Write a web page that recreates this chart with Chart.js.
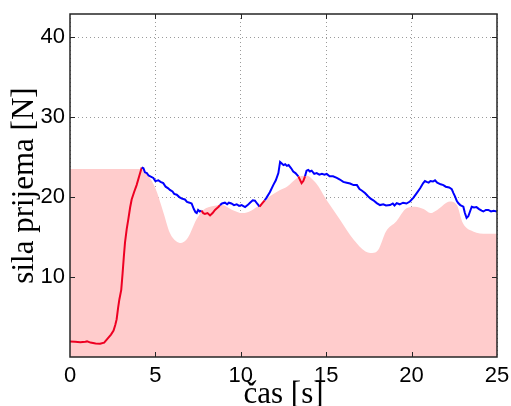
<!DOCTYPE html>
<html>
<head>
<meta charset="utf-8">
<script src="https://cdn.jsdelivr.net/npm/chart.js@4.4.1/dist/chart.umd.min.js"></script>
<style>
  html, body { margin: 0; padding: 0; background: #fff; }
  #wrap { width: 511px; height: 406px; }
</style>
</head>
<body>
<div id="wrap"><canvas id="silaChart"></canvas></div>
<script>
// measured force signal
const timeS = [0, 0.3, 0.6, 0.9, 1.0, 1.2, 1.5, 1.76, 2.0, 2.2, 2.4, 2.55, 2.65, 2.73, 2.82, 2.89, 3.0, 3.08, 3.15, 3.22,
  3.32, 3.42, 3.52, 3.61, 3.75, 3.9, 4.05, 4.2, 4.3, 4.39, 4.5, 4.6, 4.7, 4.88, 5.0, 5.17, 5.3, 5.46, 5.6, 5.75,
  5.85, 6.0, 6.1, 6.25, 6.4, 6.55, 6.73, 6.85, 7.0, 7.12, 7.25, 7.35, 7.42, 7.5, 7.6, 7.7, 7.8, 7.9, 8.05, 8.2,
  8.35, 8.49, 8.6, 8.7, 8.78, 8.9, 9.07, 9.2, 9.3, 9.45, 9.6, 9.76, 9.9, 10.05, 10.25, 10.4, 10.54, 10.7, 10.83, 10.95,
  11.1, 11.25, 11.4, 11.5, 11.7, 11.9, 12.05, 12.2, 12.3, 12.4, 12.5, 12.6, 12.7, 12.8, 12.95, 13.07, 13.2, 13.37, 13.48, 13.56,
  13.66, 13.76, 13.85, 13.95, 14.05, 14.15, 14.3, 14.44, 14.6, 14.75, 14.9, 15.03, 15.2, 15.4, 15.62, 15.8, 16.0, 16.2, 16.4, 16.6,
  16.8, 16.95, 17.1, 17.27, 17.45, 17.6, 17.76, 17.96, 18.15, 18.34, 18.5, 18.74, 18.9, 19.0, 19.13, 19.3, 19.5, 19.7, 19.9, 20.1,
  20.3, 20.5, 20.68, 20.78, 20.88, 21.0, 21.1, 21.25, 21.37, 21.5, 21.7, 21.86, 22.0, 22.2, 22.35, 22.45, 22.54, 22.65, 22.73, 22.85,
  23.03, 23.12, 23.22, 23.32, 23.42, 23.52, 23.65, 23.8, 23.95, 24.1, 24.2, 24.35, 24.49, 24.65, 24.8, 25.0];
const silaN = [1.95, 1.9, 1.85, 1.9, 1.95, 1.8, 1.7, 1.66, 1.8, 2.3, 2.8, 3.3, 4.0, 4.7, 6.2, 7.2, 8.4, 10.5, 12.5, 14.3,
  16.0, 17.3, 18.7, 19.7, 20.6, 21.5, 22.6, 23.7, 23.6, 23.1, 23.0, 22.7, 22.6, 22.4, 22.0, 22.1, 21.9, 21.75, 21.3, 21.1,
  20.9, 20.7, 20.4, 20.3, 20.0, 19.8, 19.7, 19.4, 19.3, 19.2, 18.5, 18.1, 18.0, 18.4, 18.2, 18.3, 18.0, 17.9, 18.0, 17.7,
  18.0, 18.4, 18.6, 18.8, 19.0, 19.2, 19.3, 19.1, 19.3, 19.2, 19.0, 19.1, 18.9, 19.0, 18.75, 19.0, 19.3, 19.6, 19.55, 19.2,
  18.8, 19.2, 19.6, 19.9, 20.6, 21.5, 22.1, 23.0, 24.4, 24.2, 24.0, 24.1, 23.9, 24.0, 23.6, 23.2, 23.0, 22.6, 22.1, 21.75,
  22.0, 22.6, 23.3, 23.4, 23.2, 23.3, 22.9, 23.0, 22.8, 22.9, 22.8, 22.9, 22.6, 22.6, 22.4, 22.2, 21.9, 21.8, 21.7, 21.5,
  21.5, 21.0, 20.8, 20.5, 20.1, 19.8, 19.6, 19.25, 19.0, 19.1, 18.95, 19.0, 19.2, 18.95, 19.25, 19.1, 19.3, 19.2, 19.45, 19.9,
  20.5, 21.1, 21.75, 22.0, 21.9, 21.8, 22.0, 21.95, 22.1, 21.8, 21.6, 21.5, 21.3, 21.2, 21.0, 20.5, 20.1, 19.5, 19.25, 19.0,
  18.8, 18.0, 17.4, 17.6, 18.2, 18.8, 18.7, 18.75, 18.5, 18.3, 18.2, 18.4, 18.4, 18.2, 18.3, 18.2];

// shaded reference envelope
const pinkTime = [0, 4.15, 4.6, 5.0, 5.45, 5.85, 6.2, 6.5, 6.9, 7.4, 7.8, 8.4, 8.9, 9.5, 10.1, 10.6, 11.1, 11.7, 12.3, 12.7,
  13.3, 13.8, 14.4, 15.0, 15.8, 16.6, 17.3, 17.7, 18.05, 18.5, 19.1, 19.7, 20.2, 20.7, 21.1, 21.5, 22.25, 22.65, 23.0, 23.6, 24.4, 25];
const pinkLevel = [23.5, 23.5, 22.6, 21.1, 18.2, 15.5, 14.5, 14.25, 14.9, 17.2, 18.4, 18.9, 19.0, 18.4, 18.0, 18.3, 19.05, 20.1, 20.9, 21.3,
  22.4, 22.7, 21.75, 19.7, 17.2, 14.7, 13.2, 13.0, 13.4, 15.7, 16.95, 18.6, 18.8, 18.5, 18.0, 18.4, 19.45, 19.0, 16.75, 15.7, 15.4, 15.4];

const xTicks = [0, 5, 10, 15, 20, 25];
const yTicks = [10, 20, 30, 40];

const BLUE = '#0000ff';
const RED = '#ee0022';

function pinkAt(x) {
  for (let i = 0; i < pinkTime.length - 1; i++) {
    if (x >= pinkTime[i] && x <= pinkTime[i + 1]) {
      const t = (x - pinkTime[i]) / (pinkTime[i + 1] - pinkTime[i]);
      return pinkLevel[i] + t * (pinkLevel[i + 1] - pinkLevel[i]);
    }
  }
  return pinkLevel[pinkLevel.length - 1];
}

// MATLAB-like frame, inward ticks and axis titles
const framePlugin = {
  id: 'frame',
  afterDraw(chart) {
    const { ctx, chartArea: a, scales } = chart;
    ctx.save();
    ctx.strokeStyle = '#262626';
    ctx.lineWidth = 1.5;
    ctx.strokeRect(a.left, a.top, a.right - a.left, a.bottom - a.top);
    ctx.lineWidth = 1;
    ctx.beginPath();
    xTicks.slice(1, -1).forEach(v => {
      const px = Math.round(scales.x.getPixelForValue(v)) + 0.5;
      ctx.moveTo(px, a.bottom); ctx.lineTo(px, a.bottom - 5);
      ctx.moveTo(px, a.top); ctx.lineTo(px, a.top + 5);
    });
    yTicks.forEach(v => {
      const py = Math.round(scales.y.getPixelForValue(v)) + 0.5;
      ctx.moveTo(a.left, py); ctx.lineTo(a.left + 5, py);
      ctx.moveTo(a.right, py); ctx.lineTo(a.right - 5, py);
    });
    ctx.stroke();

    ctx.fillStyle = '#000';
    ctx.font = '31px "Liberation Serif", "Times New Roman", serif';
    ctx.textAlign = 'center';
    ctx.textBaseline = 'alphabetic';
    ctx.fillText('čas [s]', (a.left + a.right) / 2, a.bottom + 46);
    ctx.translate(a.left - 37, (a.top + a.bottom) / 2);
    ctx.rotate(-Math.PI / 2);
    ctx.fillText('sila prijema [N]', 0, 0);
    ctx.restore();
  }
};

const tickFont = { family: '"Liberation Sans", Arial, sans-serif', size: 22 };

new Chart(document.getElementById('silaChart'), {
  type: 'line',
  data: {
    datasets: [
      {
        label: 'sila',
        data: timeS.map((t, i) => ({ x: t, y: silaN[i] })),
        borderColor: BLUE,
        borderWidth: 2,
        pointRadius: 0,
        fill: false,
        segment: {
          borderColor: c => {
            const xm = (c.p0.parsed.x + c.p1.parsed.x) / 2;
            const ym = (c.p0.parsed.y + c.p1.parsed.y) / 2;
            return ym < pinkAt(xm) ? RED : BLUE;
          }
        }
      },
      {
        label: 'obvojnica',
        data: pinkTime.map((t, i) => ({ x: t, y: pinkLevel[i] })),
        borderWidth: 0,
        borderColor: 'rgba(0,0,0,0)',
        backgroundColor: 'rgb(255, 204, 204)',
        pointRadius: 0,
        fill: 'origin',
        cubicInterpolationMode: 'monotone'
      }
    ]
  },
  options: {
    responsive: true,
    maintainAspectRatio: false,
    animation: false,
    layout: { padding: { left: 0, top: 14, right: 14, bottom: 0 } },
    plugins: {
      legend: { display: false },
      tooltip: { enabled: false }
    },
    scales: {
      x: {
        type: 'linear',
        min: 0,
        max: 25,
        afterFit: s => { s.height = 49; s.paddingLeft = 0; s.paddingRight = 0; },
        afterBuildTicks: s => { s.ticks = xTicks.map(v => ({ value: v })); },
        ticks: { font: tickFont, color: '#000', padding: 6, maxRotation: 0 },
        grid: { color: '#9a9a9a', lineWidth: 1, drawTicks: false },
        border: { display: false, dash: [1, 3] }
      },
      y: {
        type: 'linear',
        min: 0,
        max: 42.9,
        afterFit: s => { s.width = 70; s.paddingTop = 0; s.paddingBottom = 0; },
        afterBuildTicks: s => { s.ticks = yTicks.map(v => ({ value: v })); },
        ticks: { font: tickFont, color: '#000', padding: 5 },
        grid: { color: '#9a9a9a', lineWidth: 1, drawTicks: false },
        border: { display: false, dash: [1, 3] }
      }
    }
  },
  plugins: [framePlugin]
});
</script>
</body>
</html>
